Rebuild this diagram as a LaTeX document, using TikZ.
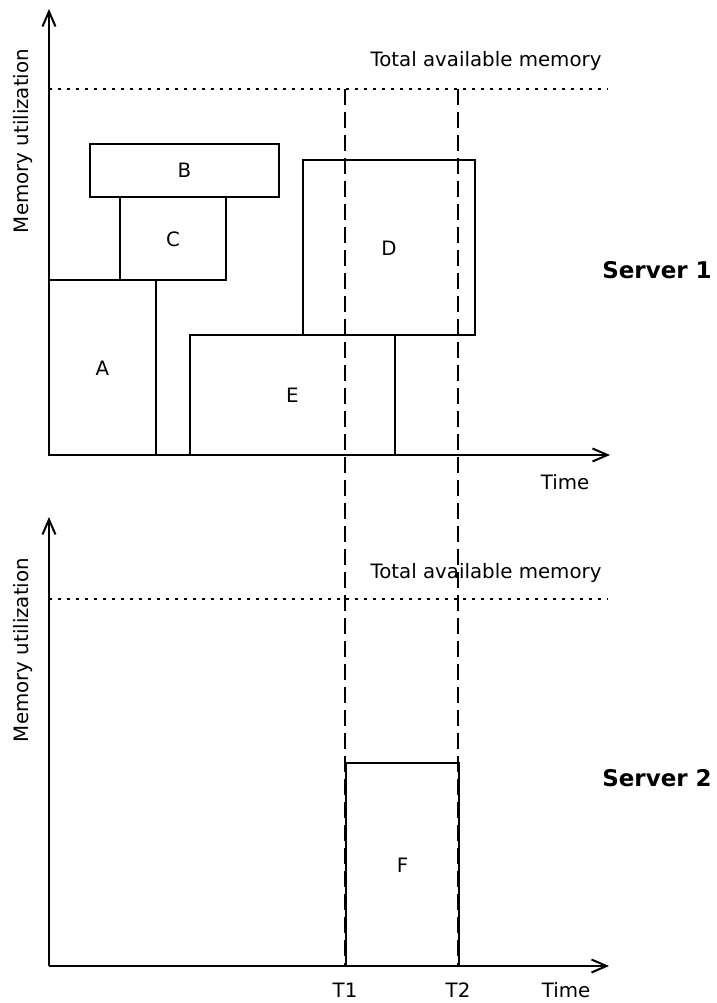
\documentclass[tikz,border=0pt]{standalone}
\usepackage{fontspec}
\setmainfont{DejaVu Sans}
\usetikzlibrary{arrows.meta}
\begin{document}
\begin{tikzpicture}[x=1pt,y=-1pt,
  axis/.style={line width=2pt,-{Straight Barb[length=15pt,width=13pt,line width=2pt]}},
  job/.style={draw,line width=2pt},
  limit/.style={line width=2pt,dash pattern=on 3pt off 6pt},
  mark line/.style={line width=1.8pt,dash pattern=on 16pt off 7pt},
  lbl/.style={font=\fontsize{19.8}{23}\selectfont,inner sep=0pt},
  srv/.style={font=\fontsize{23}{27}\selectfont\bfseries,inner sep=0pt}]
\useasboundingbox (0,0) rectangle (716,1003);

% ---------- Server 1 ----------
\coordinate (o1) at (49,455);
\coordinate (y1) at (49,9);
\coordinate (x1) at (610,455);
\draw[limit] (49,89) -- (608,89);
\node[lbl] (tam1) at (486,61) {Total available memory};
\node[lbl,rotate=90] (mu1) at (23,141) {Memory utilization};
\node[lbl] (time1) at (565,482) {Time};
\node[srv] (s1) at (657,270) {Server 1};

\draw[job] (49,280) rectangle (156,455);
\node[lbl] (A) at (102.5,368) {A};
\draw[job] (90,144) rectangle (279,197);
\node[lbl] (B) at (184.5,170.5) {B};
\draw[job] (120,197) rectangle (226,280);
\node[lbl] (C) at (173,239) {C};
\draw[job] (303,160) rectangle (475,335);
\node[lbl] (D) at (389,248) {D};
\draw[job] (190,335) rectangle (395,455);
\node[lbl] (E) at (292.5,395) {E};

\draw[axis] (o1) -- (y1);
\draw[axis] (o1) -- (x1);

% ---------- Server 2 ----------
\coordinate (o2) at (49,966);
\coordinate (y2) at (49,517);
\coordinate (x2) at (609,966);
\draw[limit] (49,599) -- (608,599);
\node[lbl] (tam2) at (486,573) {Total available memory};
\node[lbl,rotate=90] (mu2) at (23,650) {Memory utilization};
\node[srv] (s2) at (657,778) {Server 2};

\draw[job] (346,763) rectangle (459,966);
\node[lbl] (F) at (402.5,865) {F};

\draw[axis] (o2) -- (y2);
\draw[axis] (o2) -- (x2);

\node[lbl] (t1) at (345,990) {T1};
\node[lbl] (t2) at (458,990) {T2};
\node[lbl] (time2) at (566,990) {Time};

% ---------- interval T1..T2 ----------
\coordinate (t1top) at (345,89);
\coordinate (t2top) at (458,89);
\coordinate (t1bot) at (345,966);
\coordinate (t2bot) at (458,966);
\draw[mark line] (t1top) -- (t1bot);
\draw[mark line] (t2top) -- (t2bot);
\end{tikzpicture}
\end{document}
